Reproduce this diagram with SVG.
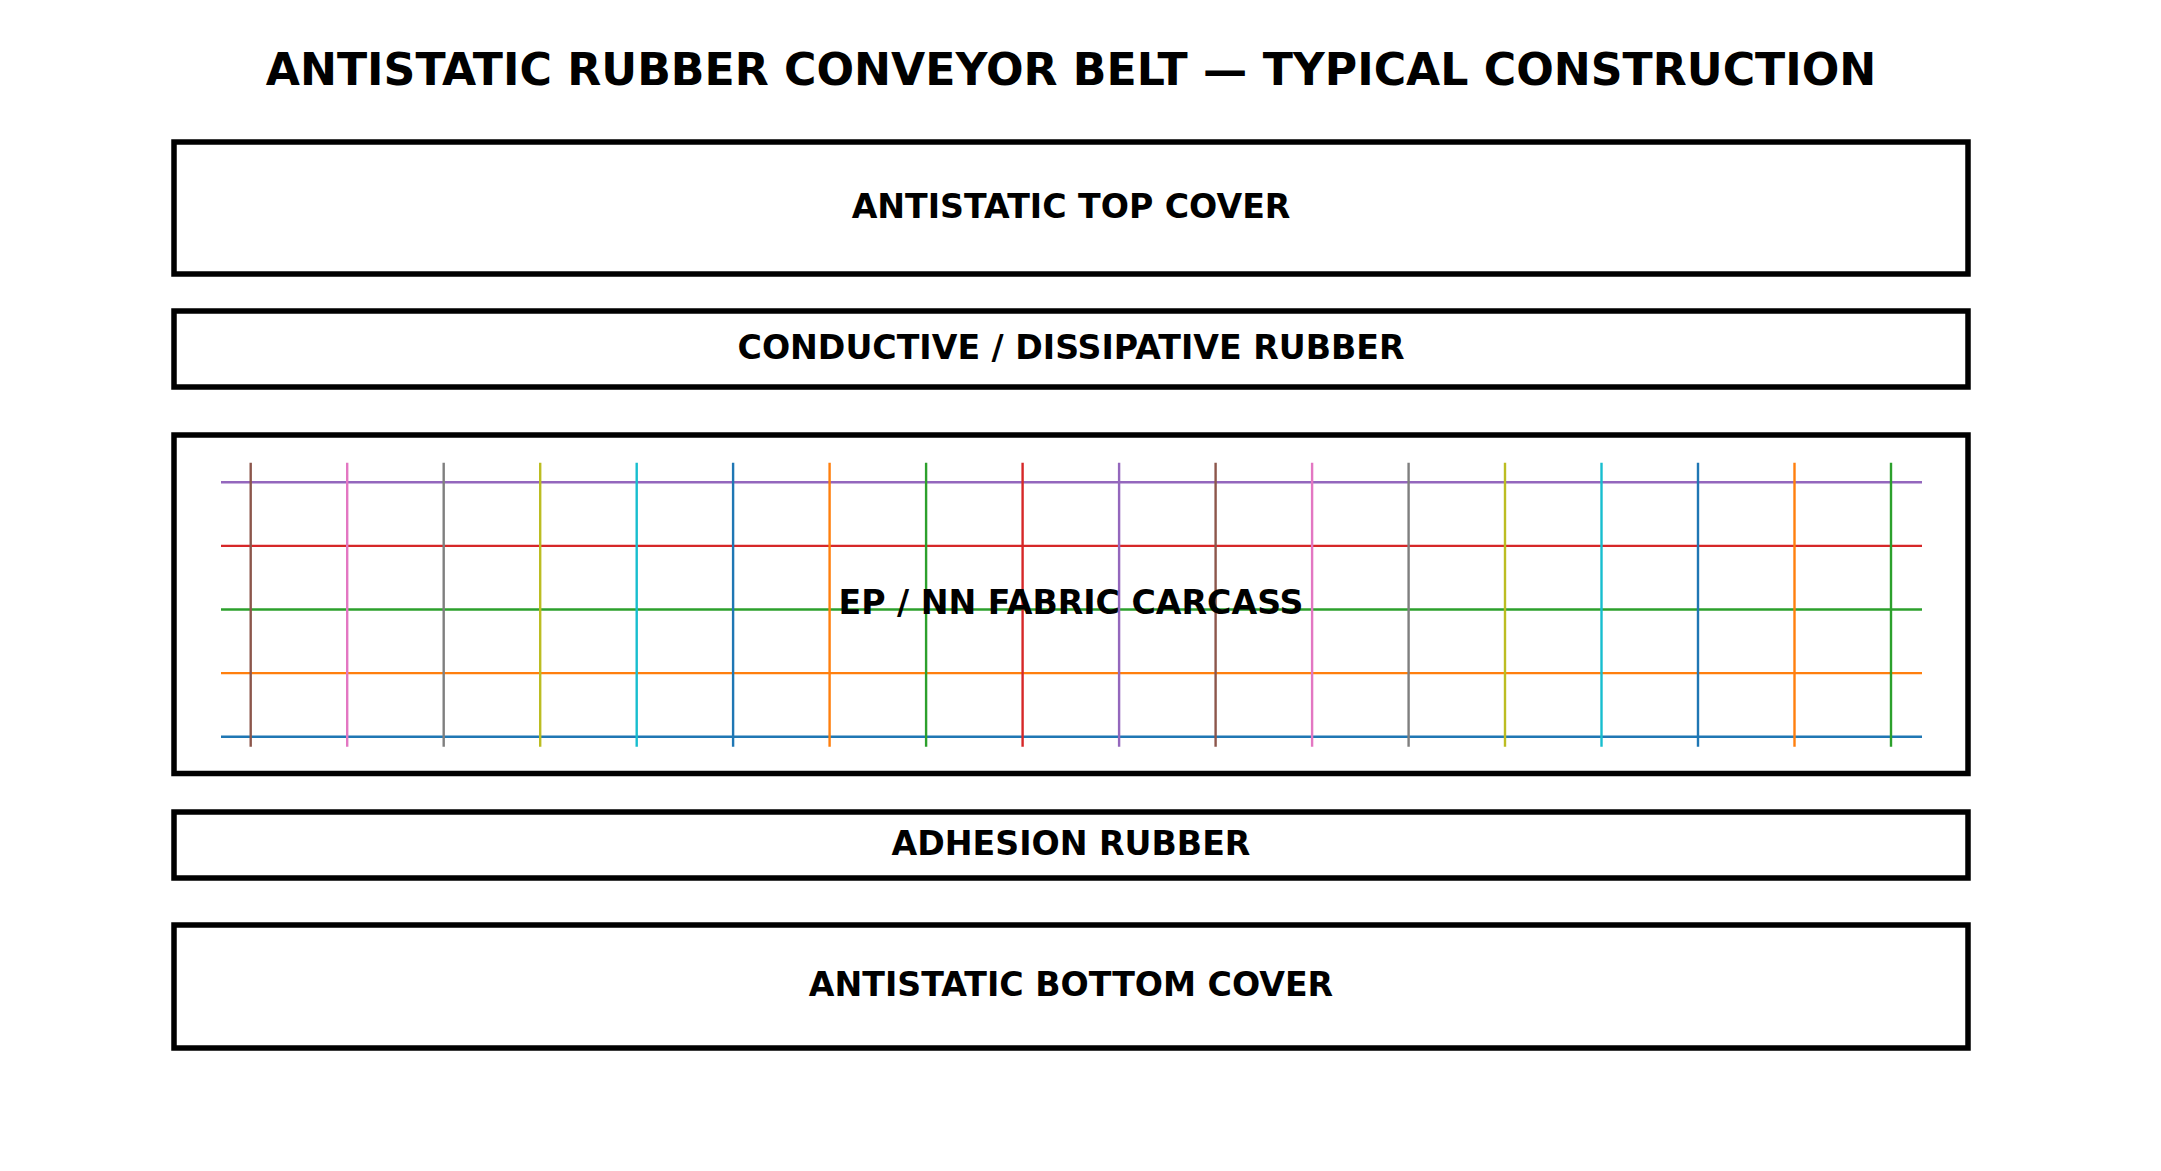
<svg xmlns="http://www.w3.org/2000/svg" width="2161" height="1171" viewBox="0 0 2161 1171">
<style>
.layer{fill:#ffffff;stroke:#000000;stroke-width:5.5}
.lbl{font-family:"DejaVu Sans","Liberation Sans",sans-serif;font-weight:bold;font-size:33.2px;fill:#000000;text-anchor:middle}
.title{font-family:"DejaVu Sans","Liberation Sans",sans-serif;font-weight:bold;font-size:44.2px;fill:#000000;text-anchor:middle}
.g line{stroke-width:2.4}
</style>
<rect width="2161" height="1171" fill="#ffffff"/>
<text class="title" x="1071" y="84.5">ANTISTATIC RUBBER CONVEYOR BELT — TYPICAL CONSTRUCTION</text>
<g id="top-cover">
<rect class="layer" x="174" y="142" width="1794" height="132"/>
<text class="lbl" x="1071" y="218">ANTISTATIC TOP COVER</text>
</g>
<g id="conductive-rubber">
<rect class="layer" x="174" y="311" width="1794" height="76"/>
<text class="lbl" x="1071" y="359">CONDUCTIVE / DISSIPATIVE RUBBER</text>
</g>
<g id="fabric-carcass">
<rect class="layer" x="174" y="435" width="1794" height="338.5"/>
<g class="g">
<line x1="221" y1="736.7" x2="1922" y2="736.7" stroke="#1f77b4"/>
<line x1="221" y1="673.1" x2="1922" y2="673.1" stroke="#ff7f0e"/>
<line x1="221" y1="609.5" x2="1922" y2="609.5" stroke="#2ca02c"/>
<line x1="221" y1="545.9" x2="1922" y2="545.9" stroke="#d62728"/>
<line x1="221" y1="482.3" x2="1922" y2="482.3" stroke="#9467bd"/>
<line x1="250.7" y1="462.7" x2="250.7" y2="746.7" stroke="#8c564b"/>
<line x1="347.2" y1="462.7" x2="347.2" y2="746.7" stroke="#e377c2"/>
<line x1="443.7" y1="462.7" x2="443.7" y2="746.7" stroke="#7f7f7f"/>
<line x1="540.2" y1="462.7" x2="540.2" y2="746.7" stroke="#bcbd22"/>
<line x1="636.7" y1="462.7" x2="636.7" y2="746.7" stroke="#17becf"/>
<line x1="733.1" y1="462.7" x2="733.1" y2="746.7" stroke="#1f77b4"/>
<line x1="829.6" y1="462.7" x2="829.6" y2="746.7" stroke="#ff7f0e"/>
<line x1="926.1" y1="462.7" x2="926.1" y2="746.7" stroke="#2ca02c"/>
<line x1="1022.6" y1="462.7" x2="1022.6" y2="746.7" stroke="#d62728"/>
<line x1="1119.1" y1="462.7" x2="1119.1" y2="746.7" stroke="#9467bd"/>
<line x1="1215.6" y1="462.7" x2="1215.6" y2="746.7" stroke="#8c564b"/>
<line x1="1312.1" y1="462.7" x2="1312.1" y2="746.7" stroke="#e377c2"/>
<line x1="1408.6" y1="462.7" x2="1408.6" y2="746.7" stroke="#7f7f7f"/>
<line x1="1505.0" y1="462.7" x2="1505.0" y2="746.7" stroke="#bcbd22"/>
<line x1="1601.5" y1="462.7" x2="1601.5" y2="746.7" stroke="#17becf"/>
<line x1="1698.0" y1="462.7" x2="1698.0" y2="746.7" stroke="#1f77b4"/>
<line x1="1794.5" y1="462.7" x2="1794.5" y2="746.7" stroke="#ff7f0e"/>
<line x1="1891.0" y1="462.7" x2="1891.0" y2="746.7" stroke="#2ca02c"/>
</g>
<text class="lbl" x="1071" y="614">EP / NN FABRIC CARCASS</text>
</g>
<g id="adhesion-rubber">
<rect class="layer" x="174" y="812" width="1794" height="66"/>
<text class="lbl" x="1071" y="855">ADHESION RUBBER</text>
</g>
<g id="bottom-cover">
<rect class="layer" x="174" y="925" width="1794" height="123"/>
<text class="lbl" x="1071" y="996">ANTISTATIC BOTTOM COVER</text>
</g>
<g id="connectors"></g>
</svg>
